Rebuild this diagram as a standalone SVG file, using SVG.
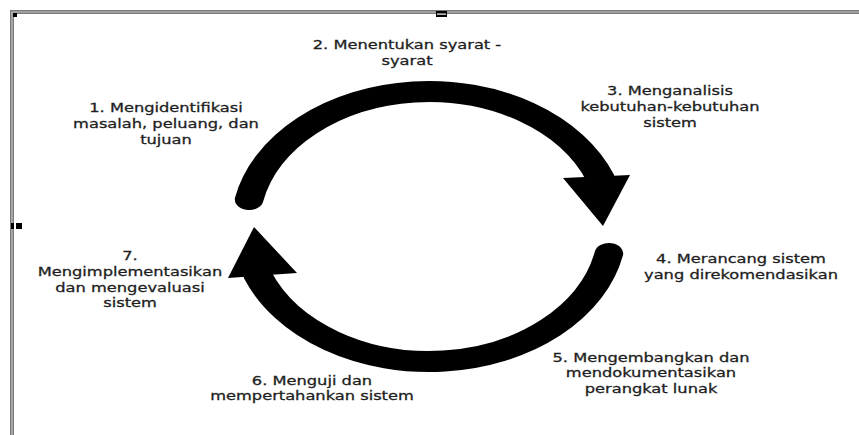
<svg xmlns="http://www.w3.org/2000/svg" width="859" height="435" viewBox="0 0 859 435">
<style>
.lbl{font-family:"DejaVu Sans","Verdana",sans-serif;font-size:13px;fill:#1e1e1e;stroke:#1e1e1e;stroke-width:0.3;text-anchor:middle}
.band{fill:none;stroke:#000;stroke-width:21;stroke-linecap:round}
.frame{stroke:#7a7a7a;stroke-width:4;fill:none}
.frameIn{stroke:#c4c4c4;stroke-width:1.2;fill:none}
</style>
<rect width="859" height="435" fill="#fff"/>
<g id="frame">
<path class="frame" d="M12 435 V12 H859"/>
<path class="frameIn" d="M12 435 V12 H859"/>
<rect x="13" y="13" width="4" height="4" fill="#000"/>
<rect x="436" y="11" width="11" height="6" fill="#000"/>
<rect x="437" y="13.5" width="9" height="1.2" fill="#fff"/>
<rect x="11" y="223" width="3" height="6" fill="#000"/>
<rect x="16" y="223" width="6" height="6" fill="#000"/>
</g>
<g id="connectors">
<g transform="translate(429 226.5) scale(1.36 1)">
<path class="band" d="M -132.29 -26.92 A 135 135 0 0 1 126.03 -48.38"/>
<path class="band" d="M 132.29 26.92 A 135 135 0 0 1 -126.03 48.38"/>
</g>
<polygon points="563,178 630,175 603,226" fill="#000"/>
<polygon points="297,273 228,278 254,227" fill="#000"/>
</g>
<g id="step1" transform="translate(166 0) scale(1.25 1)">
<text class="lbl" x="0" y="112">1. Mengidentifikasi</text>
<text class="lbl" x="0" y="128">masalah, peluang, dan</text>
<text class="lbl" x="0" y="144">tujuan</text>
</g>
<g id="step2" transform="translate(407 0) scale(1.25 1)">
<text class="lbl" x="0" y="49">2. Menentukan syarat -</text>
<text class="lbl" x="0" y="65">syarat</text>
</g>
<g id="step3" transform="translate(670 0) scale(1.25 1)">
<text class="lbl" x="0" y="95.5">3. Menganalisis</text>
<text class="lbl" x="0" y="111.5">kebutuhan-kebutuhan</text>
<text class="lbl" x="0" y="127">sistem</text>
</g>
<g id="step4" transform="translate(741 0) scale(1.25 1)">
<text class="lbl" x="0" y="263">4. Merancang sistem</text>
<text class="lbl" x="0" y="279">yang direkomendasikan</text>
</g>
<g id="step5" transform="translate(651 0) scale(1.25 1)">
<text class="lbl" x="0" y="362">5. Mengembangkan dan</text>
<text class="lbl" x="0" y="377.5">mendokumentasikan</text>
<text class="lbl" x="0" y="393">perangkat lunak</text>
</g>
<g id="step6" transform="translate(312 0) scale(1.25 1)">
<text class="lbl" x="0" y="385">6. Menguji dan</text>
<text class="lbl" x="0" y="400">mempertahankan sistem</text>
</g>
<g id="step7" transform="translate(130 0) scale(1.25 1)">
<text class="lbl" x="0" y="260">7.</text>
<text class="lbl" x="0" y="276">Mengimplementasikan</text>
<text class="lbl" x="0" y="292">dan mengevaluasi</text>
<text class="lbl" x="0" y="307">sistem</text>
</g>
</svg>
